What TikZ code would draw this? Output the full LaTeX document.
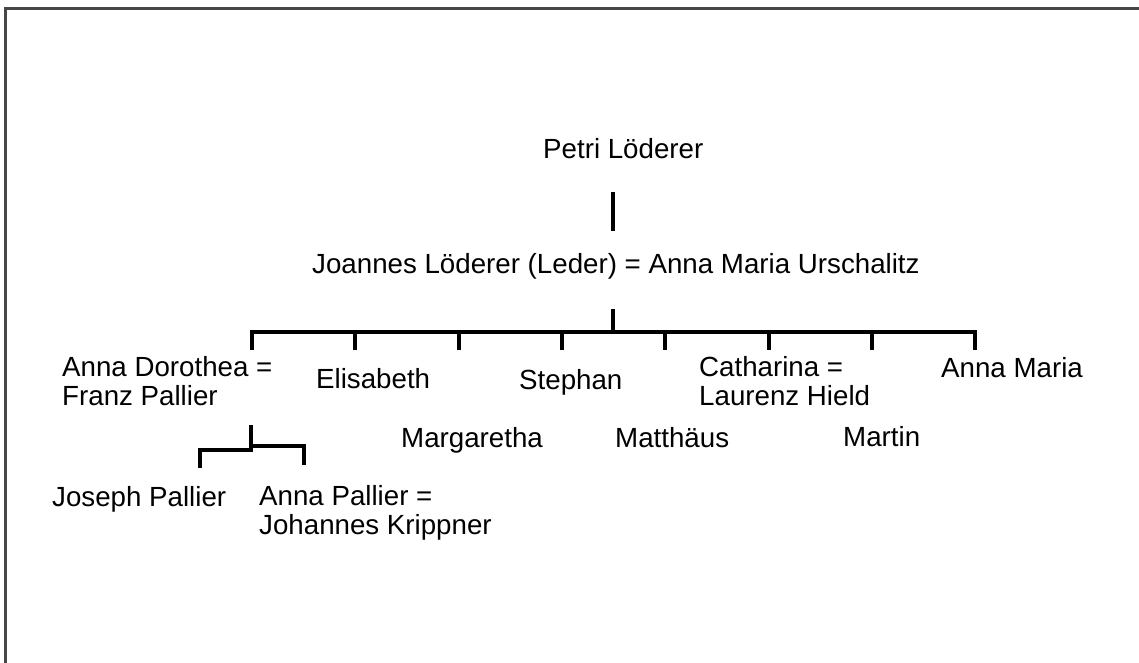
\documentclass[tikz,border=0pt]{standalone}
\usepackage{fontspec}
\setmainfont{Liberation Sans}
\begin{document}
\begin{tikzpicture}[x=1pt,y=-1pt,
  lbl/.style={inner sep=0pt,anchor=base west,font=\fontsize{27.7}{30}\selectfont},
  lbl2/.style={inner sep=0pt,anchor=north west,align=left,font=\fontsize{27.7}{29.5}\selectfont},
  conn/.style={line width=4pt,line cap=rect},
  frame/.style={line width=2.5pt,draw=black!72}]
\useasboundingbox (0,0) rectangle (1139,663);
% frame
\draw[frame] (5.5,663) -- (5.5,8.5) -- (1139,8.5);
% labels
\node[lbl] (petri) at (543,159) {Petri Löderer};
\node[lbl] (joannes) at (312,273) {Joannes Löderer (Leder) = Anna Maria Urschalitz};
\node[lbl2] (annad) at (62,356) {Anna Dorothea =\\Franz Pallier};
\node[lbl] (elis) at (316,388) {Elisabeth};
\node[lbl] (marg) at (401,447) {Margaretha};
\node[lbl] (steph) at (519,389) {Stephan};
\node[lbl] (matt) at (615,447) {Matthäus};
\node[lbl2] (cath) at (699,356) {Catharina =\\Laurenz Hield};
\node[lbl] (mart) at (843,446) {Martin};
\node[lbl] (annam) at (941,377) {Anna Maria};
\node[lbl] (joseph) at (52,506) {Joseph Pallier};
\node[lbl2] (annap) at (259,485) {Anna Pallier =\\Johannes Krippner};
% connector points
\coordinate (p1) at (613,194);
\coordinate (p2) at (613,229);
\coordinate (j1) at (613,311);
\coordinate (bar) at (613,332);
\foreach \i/\x in {1/252,2/355,3/459,4/562,5/665,6/769,7/872,8/975}{
  \coordinate (t\i) at (\x,332);
  \coordinate (b\i) at (\x,348);
}
\coordinate (d1) at (251,427);
\coordinate (d2) at (251,448);
\coordinate (dl) at (200,450);
\coordinate (dlb) at (200,466);
\coordinate (dr) at (304,446);
\coordinate (drb) at (304,463);
% connectors
\draw[conn] (p1) -- (p2);
\draw[conn] (j1) -- (bar);
\draw[conn] (b1) -- (t1) -- (t8) -- (b8);
\foreach \i in {2,...,7}{\draw[conn] (t\i) -- (b\i);}
\draw[conn] (d1) -- (d2);
\draw[conn] (dlb) -- (dl) -- (dl -| d1);
\draw[conn] (dr -| d1) -- (dr) -- (drb);
\end{tikzpicture}
\end{document}
